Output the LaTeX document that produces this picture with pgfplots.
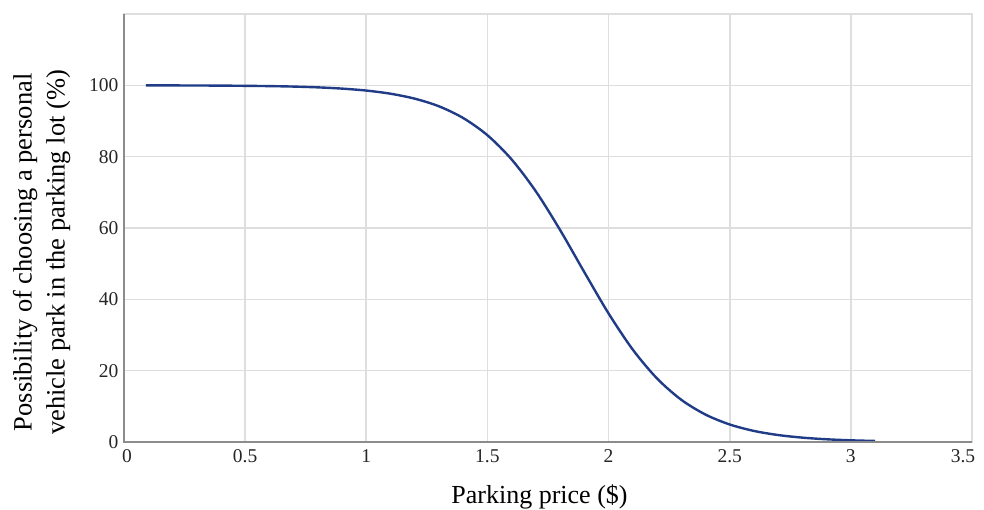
\documentclass[border=0pt]{standalone}
\usepackage{pgfplots}
\pgfplotsset{compat=1.18}
\usepackage{fontspec}
\setmainfont{Liberation Serif}
\definecolor{curve}{RGB}{32,60,135}
\definecolor{gridc}{RGB}{222,222,222}
\definecolor{axc}{RGB}{140,140,140}
\begin{document}
\begin{tikzpicture}[x=1pt,y=1pt]
\useasboundingbox (-124pt,-68pt) rectangle (860pt,442pt);
\begin{axis}[
  scale only axis,
  width=848pt, height=428pt,
  xmin=0, xmax=3.5, ymin=0, ymax=120,
  xtick={0,0.5,1,1.5,2,2.5,3,3.5},
  ytick={0,20,40,60,80,100},
  xticklabels={\hspace*{6pt}0,0.5,1,1.5,2,2.5,3,\hspace*{-18pt}3.5},
  major tick length=0pt,
  grid=major,
  major grid style={draw=gridc, line width=1.6pt},
  axis line style={draw=gridc, line width=1.6pt},
  /pgf/number format/assume math mode=true,
  tick label style={font=\fontsize{19.5}{22}\selectfont, text=black!85},
  xticklabel style={yshift=-4pt},
  yticklabel style={xshift=-2pt},
  xlabel={Parking price (\$)},
  ylabel={Possibility of choosing a personal\\vehicle park in the parking lot (\%)},
  label style={font=\fontsize{26.5}{33}\selectfont},
  x label style={at={(axis description cs:0.49,-0.128)}, anchor=center, font=\fontsize{26}{30}\selectfont},
  y label style={at={(axis description cs:-0.097,0.443)}, anchor=center, rotate=0, align=center},
  clip=false,
]
\addplot[curve, line width=2.4pt, smooth] coordinates {
(0.09,99.98) (0.2,99.97) (0.3,99.95) (0.4,99.92) (0.5,99.86) (0.6,99.78)
(0.7,99.65) (0.8,99.43) (0.9,99.08) (1.0,98.53) (1.1,97.65) (1.2,96.26)
(1.3,94.12) (1.4,90.83) (1.5,86.01) (1.6,79.21) (1.7,70.26) (1.8,59.43)
(1.9,47.61) (2.0,36.04) (2.1,25.89) (2.2,17.81) (2.3,11.84) (2.4,7.69)
(2.5,4.91) (2.6,3.10) (2.7,1.95) (2.8,1.22) (2.9,0.76) (3.0,0.47) (3.1,0.29)
};
\draw[axc, line width=1.6pt] (rel axis cs:0,1) -- (rel axis cs:0,0) -- (rel axis cs:1,0);
\end{axis}
\end{tikzpicture}
\end{document}
